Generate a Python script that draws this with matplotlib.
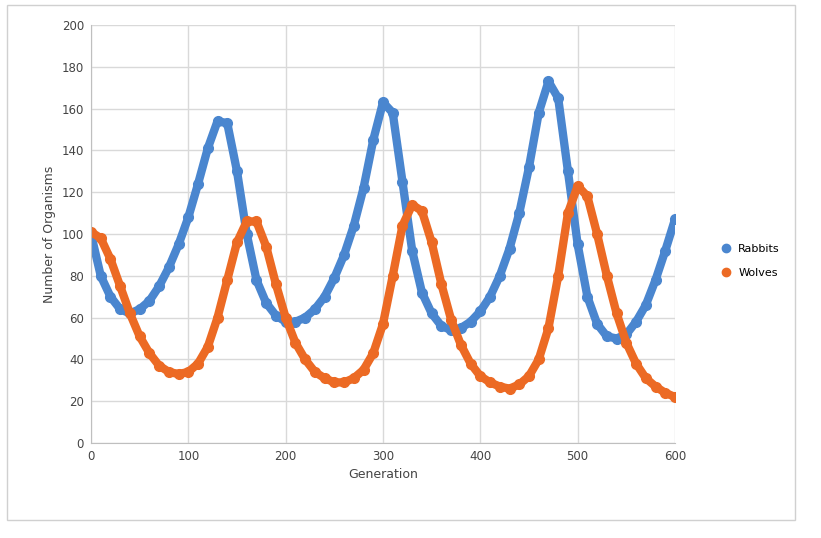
import matplotlib
matplotlib.use("Agg")
import matplotlib.pyplot as plt
from matplotlib.patches import Rectangle

generation = list(range(0, 601, 10))
rabbits = [100,80,70,64,62,64,68,75,84,95,108,124,141,154,153,130,100,78,67,61,58,58,60,64,70,79,90,104,122,145,163,158,125,92,72,62,56,54,55,58,63,70,80,93,110,132,158,173,165,130,95,70,57,51,50,52,58,66,78,92,107]
wolves = [101,98,88,75,62,51,43,37,34,33,34,38,46,60,78,96,106,106,94,76,60,48,40,34,31,29,29,31,35,43,57,80,104,114,111,96,76,59,47,38,32,29,27,26,28,32,40,55,80,110,123,118,100,80,62,48,38,31,27,24,22]

fig = plt.figure(figsize=(8.21, 5.38), dpi=100)
fig.patches.append(Rectangle((7/821, 1-520/538), 788/821, 515/538, transform=fig.transFigure,
                             fill=False, edgecolor="#d0d0d0", lw=1))
ax = fig.add_axes([91/821, 1-443/538, 584/821, 418/538])
kw = dict(lw=6, marker="o", ms=7, solid_capstyle="round")
ax.plot(generation, rabbits, color="#4a86cf", label="Rabbits", **kw)
ax.plot(generation, wolves, color="#ec6a24", label="Wolves", **kw)
ax.set_xlim(0, 600); ax.set_ylim(0, 200)
ax.set_xticks(range(0, 601, 100)); ax.set_yticks(range(0, 201, 20))
ax.grid(True, color="#d9d9d9", lw=1)
ax.set_axisbelow(True)
for s in ["top", "right"]:
    ax.spines[s].set_visible(False)
for s in ["left", "bottom"]:
    ax.spines[s].set_color("#bfbfbf")
ax.tick_params(length=0, labelsize=8.5, colors="#444444", pad=5)
ax.set_xlabel("Generation", fontsize=9, color="#444444")
ax.set_ylabel("Number of Organisms", fontsize=9, color="#444444")
h = [plt.Line2D([], [], ls="", marker="o", ms=6, color=c) for c in ["#4a86cf", "#ec6a24"]]
fig.legend(h, ["Rabbits", "Wolves"], loc="center left", bbox_to_anchor=(705/821, 1-261/538),
           frameon=False, fontsize=8, handletextpad=0.1, labelspacing=1.2)
fig.savefig("out.png", dpi=100)
